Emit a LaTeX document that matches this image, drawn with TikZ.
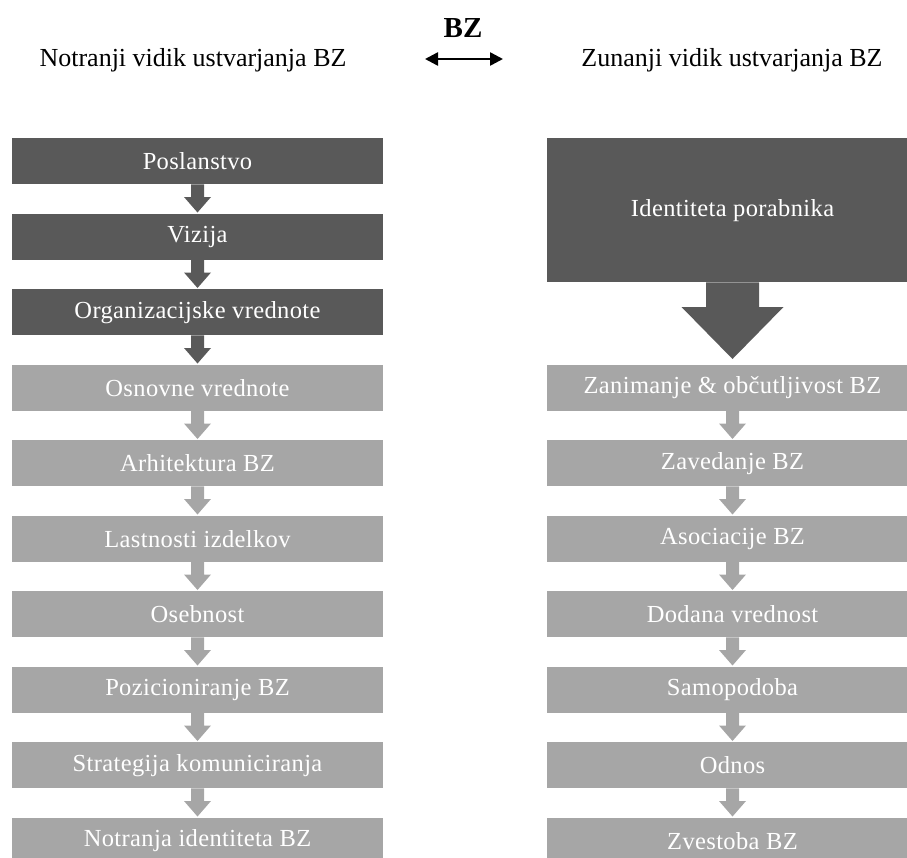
\documentclass[tikz,border=0pt]{standalone}
\usepackage{fontspec}
\setmainfont{Liberation Serif}
\usepackage{tikz}
\usetikzlibrary{arrows.meta,calc}
\definecolor{darkbox}{HTML}{595959}
\definecolor{lightbox}{HTML}{A6A6A6}

\begin{document}
\begin{tikzpicture}[
        x=1pt, y=-1pt,
        box/.style={rectangle, anchor=north, minimum width=371pt,
            minimum height=46pt, inner sep=0pt, text=white,
            font=\fontsize{24.5}{28}\selectfont\addfontfeature{LetterSpace=1.5}},
        dk/.style={box, fill=darkbox},
        lt/.style={box, fill=lightbox},
        head/.style={font=\fontsize{26}{30}\selectfont, anchor=base},
        both/.style={line width=2.5pt,
            {Triangle[length=13pt,width=13pt]}-{Triangle[length=13pt,width=13pt]}},
    ]
    \useasboundingbox (0,0) rectangle (907,857);
    \clip (0,0) rectangle (907,857);
    % title
    \node[font=\bfseries\fontsize{29}{33}\selectfont, anchor=base] (bz) at (463,37) {BZ};
    \node[head] (inner) at (193,66) {Notranji vidik ustvarjanja BZ};
    \node[head] (outer) at (732,66) {Zunanji vidik ustvarjanja BZ};
    \coordinate (arr_l) at (425,59);
    \coordinate (arr_r) at (503,59);
    \draw[both] (arr_l) -- (arr_r);

    % left column
    \node[dk] (posl) at (197.5,138) {Poslanstvo};
    \node[dk] (viz) at (197.5,213.5) {Vizija};
    \node[dk] (org) at (197.5,289) {Organizacijske vrednote};
    \node[lt] (osn) at (197.5,364.5) {Osnovne vrednote};
    \node[lt] (arh) at (197.5,440) {Arhitektura BZ};
    \node[lt] (last) at (197.5,515.5) {Lastnosti izdelkov};
    \node[lt] (oseb) at (197.5,591) {Osebnost};
    \node[lt] (poz) at (197.5,666.5) {Pozicioniranje BZ};
    \node[lt] (strat) at (197.5,742) {Strategija komuniciranja};
    \node[lt] (notr) at (197.5,817.5) {Notranja identiteta BZ};

    % right column
    \node[dk, minimum height=144pt] (ident) at (732.5,138) {Identiteta porabnika};
    \node[lt] (zan) at (732.5,364.5) {Zanimanje \& občutljivost BZ};
    \node[lt] (zav) at (732.5,440) {Zavedanje BZ};
    \node[lt] (asoc) at (732.5,515.5) {Asociacije BZ};
    \node[lt] (dod) at (732.5,591) {Dodana vrednost};
    \node[lt] (samo) at (732.5,666.5) {Samopodoba};
    \node[lt] (odn) at (732.5,742) {Odnos};
    \node[lt] (zvest) at (732.5,817.5) {Zvestoba BZ};

    % block arrows between boxes
    \foreach \a/\b/\c in {posl/viz/darkbox, viz/org/darkbox, org/osn/darkbox,
            osn/arh/lightbox, arh/last/lightbox, last/oseb/lightbox,
            oseb/poz/lightbox, poz/strat/lightbox, strat/notr/lightbox,
            zan/zav/lightbox, zav/asoc/lightbox, asoc/dod/lightbox,
            dod/samo/lightbox, samo/odn/lightbox, odn/zvest/lightbox}
        \fill[\c] let \p1=(\a.south), \p2=(\b.north) in
            (\x1-6.5pt,\y1) -- (\x1+6.5pt,\y1) -- (\x1+6.5pt,\y2+16.5pt)
            -- (\x1+13.5pt,\y2+16.5pt) -- (\x1,\y2+1pt)
            -- (\x1-13.5pt,\y2+16.5pt) -- (\x1-6.5pt,\y2+16.5pt) -- cycle;
    \fill[darkbox] let \p1=(ident.south), \p2=(zan.north) in
        (\x1-26.5pt,\y1) -- (\x1+26.5pt,\y1) -- (\x1+26.5pt,\y2+57.5pt)
        -- (\x1+51pt,\y2+57.5pt) -- (\x1,\y2+5.5pt)
        -- (\x1-51pt,\y2+57.5pt) -- (\x1-26.5pt,\y2+57.5pt) -- cycle;
\end{tikzpicture}
\end{document}
